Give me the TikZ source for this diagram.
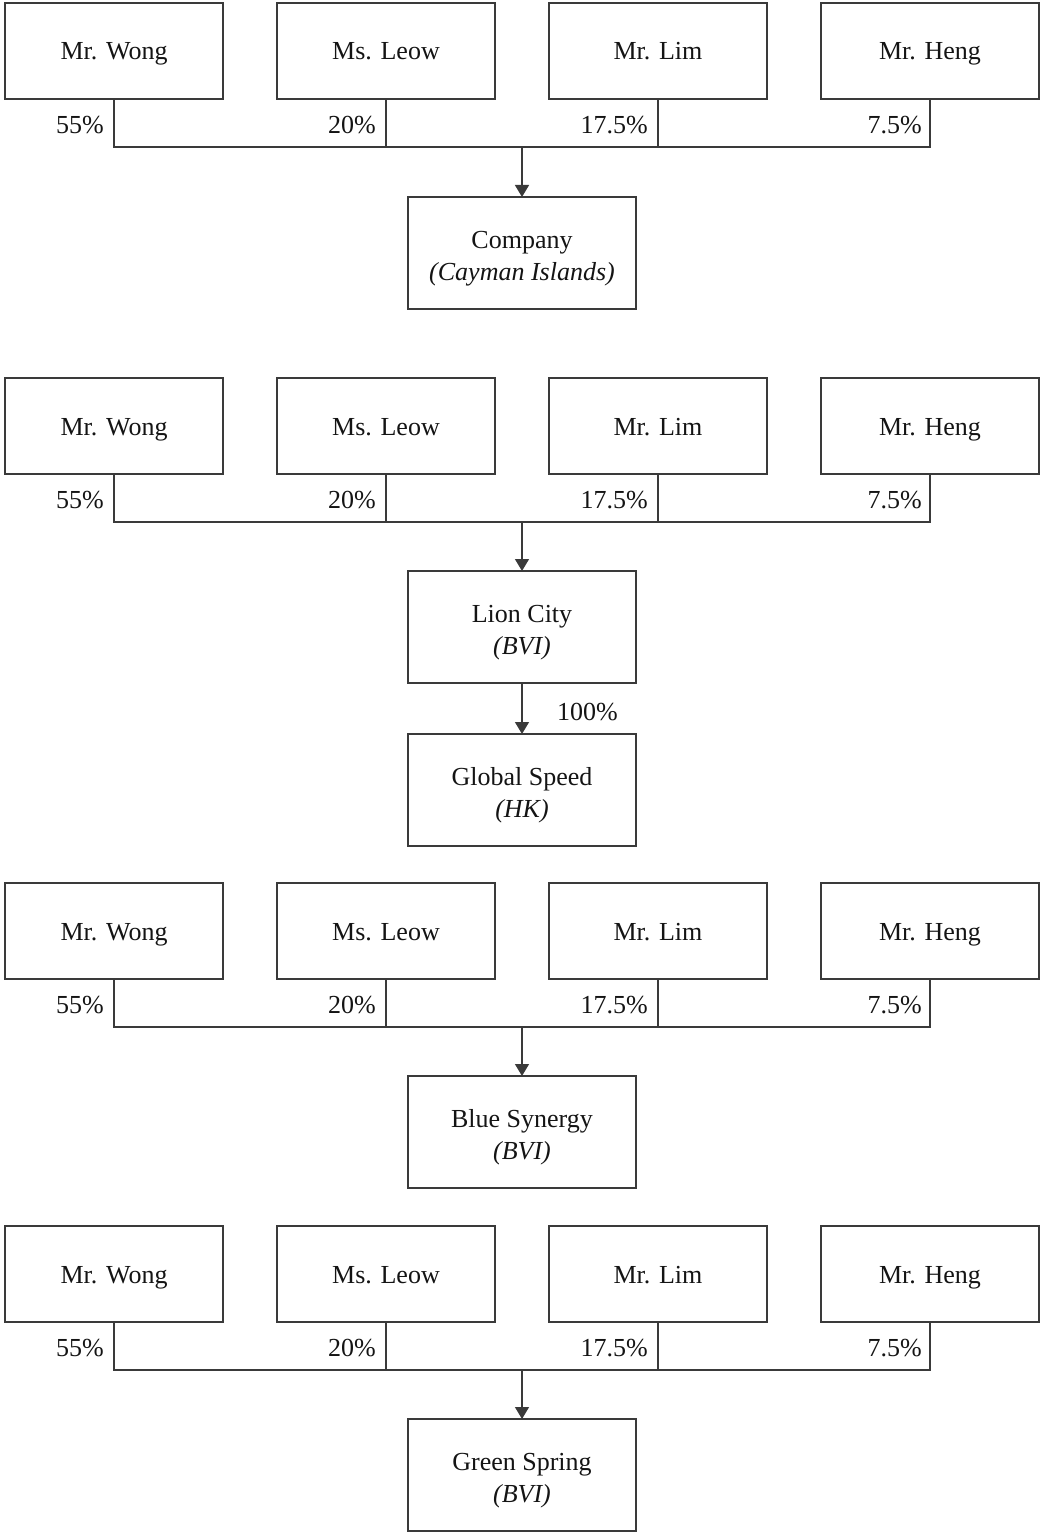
\documentclass[tikz,border=0pt]{standalone}
\usepackage{fontspec}
\setmainfont{Liberation Serif}
\usetikzlibrary{arrows.meta}
\definecolor{ln}{HTML}{3A3A3A}
\definecolor{tx}{HTML}{141414}
\tikzset{
  person/.style={draw=ln, line width=1.3pt, outer sep=0pt, anchor=north west, minimum width=218pt, minimum height=96pt, inner sep=0pt, text height=18pt, text depth=0pt, text=tx, font=\fontsize{26}{31}\selectfont},
  entity/.style={draw=ln, line width=1.3pt, outer sep=0pt, anchor=north west, minimum width=228pt, minimum height=112pt, inner sep=0pt, align=center, text=tx, font=\fontsize{26}{32}\selectfont},
  pct/.style={anchor=east, inner sep=0pt, text=tx, font=\fontsize{26}{31}\selectfont},
  conn/.style={draw=ln, line width=1.3pt},
  arr/.style={draw=ln, line width=1.3pt, -{Triangle[length=12pt,width=14pt]}}
}
\newcommand\ownergroup[3]{% prefix, top y, child name
  \node[person] (#1a) at (5,#2) {Mr. Wong};
  \node[person] (#1b) at (277,#2) {Ms. Leow};
  \node[person] (#1c) at (549,#2) {Mr. Lim};
  \node[person] (#1d) at (821,#2) {Mr. Heng};
  \node[pct] (#1pa) at (104,#2+122) {55\%};
  \node[pct] (#1pb) at (376,#2+122) {20\%};
  \node[pct] (#1pc) at (648,#2+122) {17.5\%};
  \node[pct] (#1pd) at (922,#2+122) {7.5\%};
  \coordinate (#1bar) at (522,#2+144);
  \draw[conn] (#1a.south) |- (#1bar) -| (#1d.south);
  \draw[conn] (#1b.south) -- (#1b.south |- #1bar);
  \draw[conn] (#1c.south) -- (#1c.south |- #1bar);
  \draw[arr] (#1bar) -- (#3.north);
}
\newcommand\entname[2]{\rule{0pt}{29pt}#1\\\textit{(#2)}}
\begin{document}
\begin{tikzpicture}[x=1pt,y=-1pt]
\useasboundingbox (0,0) rectangle (1040,1533);
\node[entity] (company) at (408,197) {\entname{Company}{Cayman Islands}};
\node[entity] (lion) at (408,571) {\entname{Lion City}{BVI}};
\node[entity] (global) at (408,734) {\entname{Global Speed}{HK}};
\node[entity] (blue) at (408,1076) {\entname{Blue Synergy}{BVI}};
\node[entity] (green) at (408,1419) {\entname{Green Spring}{BVI}};
\ownergroup{g}{3}{company}
\ownergroup{h}{378}{lion}
\ownergroup{k}{883}{blue}
\ownergroup{m}{1226}{green}
\draw[arr] (lion.south) -- (global.north);
\node[anchor=west, inner sep=0pt, text=tx, font=\fontsize{26}{31}\selectfont] (p100) at (557,712) {100\%};
\end{tikzpicture}
\end{document}
